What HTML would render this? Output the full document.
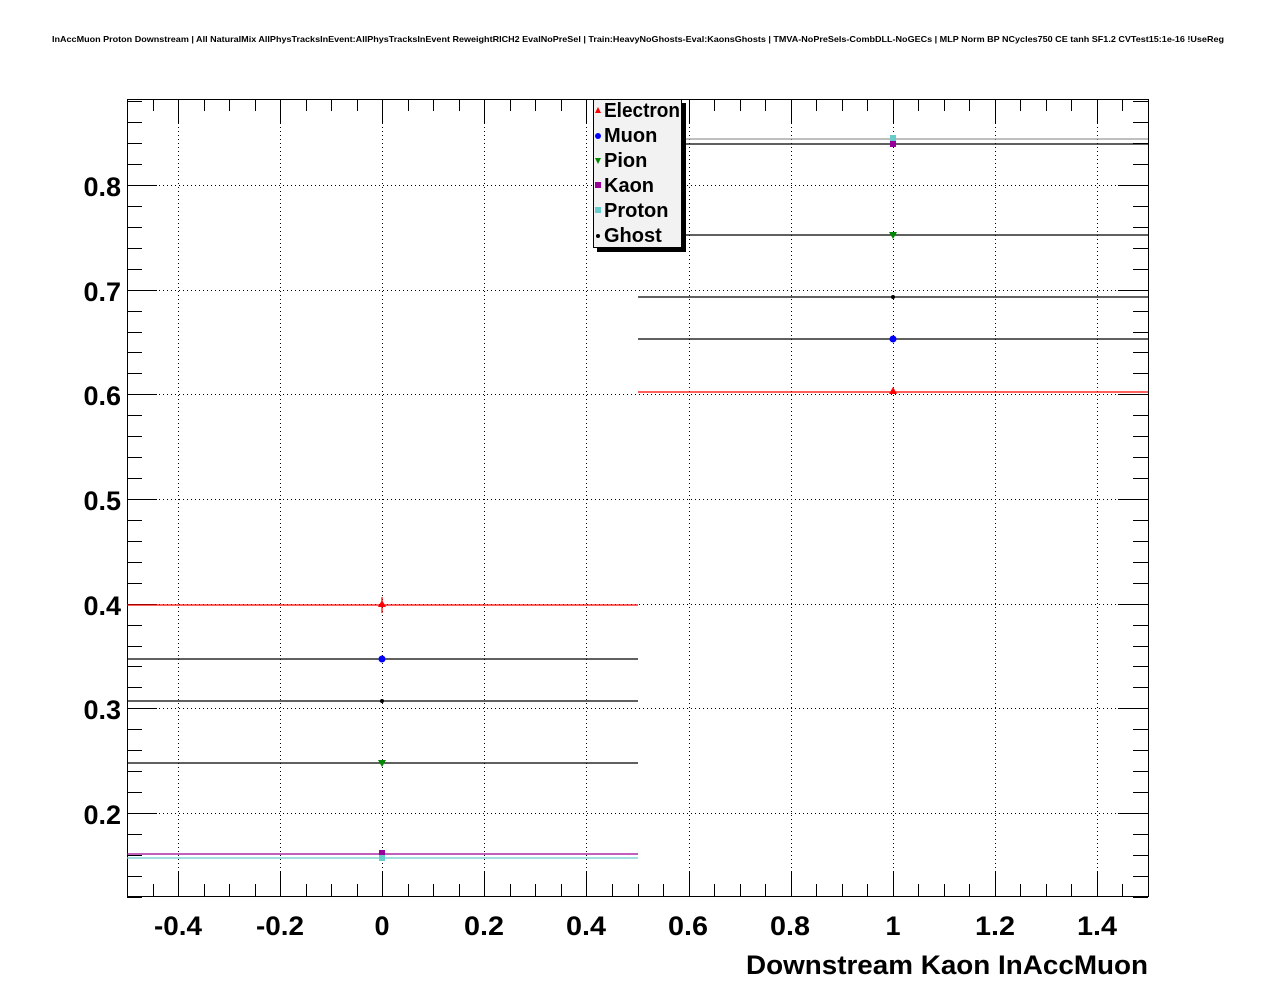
<!DOCTYPE html>
<html><head><meta charset="utf-8"><style>body{margin:0;background:#fff}svg{display:block}text{font-family:"Liberation Sans",sans-serif;font-weight:bold}</style></head><body>
<svg id="s" width="1276" height="996" viewBox="0 0 1276 996" xmlns="http://www.w3.org/2000/svg">
<rect width="1276" height="996" fill="#fff"/>
<text x="52" y="42" font-size="8.5" textLength="1172" lengthAdjust="spacingAndGlyphs">InAccMuon Proton Downstream | All NaturalMix AllPhysTracksInEvent:AllPhysTracksInEvent ReweightRICH2 EvalNoPreSel | Train:HeavyNoGhosts-Eval:KaonsGhosts | TMVA-NoPreSels-CombDLL-NoGECs | MLP Norm BP NCycles750 CE tanh SF1.2 CVTest15:1e-16 !UseReg</text>
<g id="grid" stroke="#000" stroke-width="1" stroke-dasharray="1,3"></g>
<g id="ticks" stroke="#000" stroke-width="1"></g>
<rect x="127.5" y="99.5" width="1021" height="797" fill="none" stroke="#000"/>
<g font-size="27" text-anchor="middle">
<text x="178" y="935" textLength="48" lengthAdjust="spacingAndGlyphs">-0.4</text><text x="280" y="935" textLength="48" lengthAdjust="spacingAndGlyphs">-0.2</text><text x="382" y="935">0</text><text x="484" y="935" textLength="40" lengthAdjust="spacingAndGlyphs">0.2</text><text x="586" y="935" textLength="40" lengthAdjust="spacingAndGlyphs">0.4</text><text x="688" y="935" textLength="40" lengthAdjust="spacingAndGlyphs">0.6</text><text x="790" y="935" textLength="40" lengthAdjust="spacingAndGlyphs">0.8</text><text x="893" y="935">1</text><text x="995" y="935" textLength="40" lengthAdjust="spacingAndGlyphs">1.2</text><text x="1097" y="935" textLength="40" lengthAdjust="spacingAndGlyphs">1.4</text>
</g>
<g font-size="27" text-anchor="end">
<text x="121" y="196">0.8</text><text x="121" y="301">0.7</text><text x="121" y="405">0.6</text><text x="121" y="510">0.5</text><text x="121" y="615">0.4</text><text x="121" y="719">0.3</text><text x="121" y="824">0.2</text>
</g>
<text x="746" y="974" font-size="27" textLength="402" lengthAdjust="spacingAndGlyphs">Downstream Kaon InAccMuon</text>
<g stroke-width="1.2">
<line x1="127" y1="605" x2="638" y2="605" stroke="#f00"/>
<line x1="127" y1="659" x2="638" y2="659" stroke="#000"/>
<line x1="127" y1="701" x2="638" y2="701" stroke="#000"/>
<line x1="127" y1="763" x2="638" y2="763" stroke="#000"/>
<line x1="127" y1="854" x2="638" y2="854" stroke="#909"/>
<line x1="127" y1="858" x2="638" y2="858" stroke="#6cc"/>
<line x1="638" y1="139" x2="1148" y2="139" stroke="#999"/>
<line x1="638" y1="144" x2="1148" y2="144" stroke="#000"/>
<line x1="638" y1="235" x2="1148" y2="235" stroke="#000"/>
<line x1="638" y1="297" x2="1148" y2="297" stroke="#000"/>
<line x1="638" y1="339" x2="1148" y2="339" stroke="#000"/>
<line x1="638" y1="392" x2="1148" y2="392" stroke="#f00"/>
<line x1="382" y1="597" x2="382" y2="613" stroke="#f00"/>
</g>
<g>
<polygon points="382,600 378,607 386,607" fill="#f00"/><circle cx="382" cy="659" r="3.5" fill="#00f"/><circle cx="382" cy="701" r="2" fill="#000"/>
<polygon points="378,760 386,760 382,767" fill="#080"/><rect x="379" y="850" width="6" height="6" fill="#909"/><rect x="379" y="855" width="6" height="6" fill="#6cc"/>
<polygon points="893,387 889,394 897,394" fill="#f00"/><circle cx="893" cy="339" r="3.5" fill="#00f"/><circle cx="893" cy="297" r="2" fill="#000"/>
<polygon points="889,232 897,232 893,239" fill="#080"/><rect x="890" y="141" width="6" height="6" fill="#909"/><rect x="890" y="135" width="6" height="6" fill="#6cc"/>
</g>
<rect x="597" y="103" width="89" height="149" fill="#000"/>
<rect x="593.5" y="99.5" width="88" height="148" fill="#f2f2f2" stroke="#000"/>
<g font-size="20">
<polygon points="598,107 595,113 601,113" fill="#f00"/><text x="604" y="117" textLength="76" lengthAdjust="spacingAndGlyphs">Electron</text>
<circle cx="598" cy="136" r="3" fill="#00f"/><text x="604" y="142">Muon</text>
<polygon points="595,158 601,158 598,164" fill="#080"/><text x="604" y="167">Pion</text>
<rect x="595" y="182" width="6" height="6" fill="#909"/><text x="604" y="192">Kaon</text>
<rect x="595" y="207" width="6" height="6" fill="#6cc"/><text x="604" y="217">Proton</text>
<circle cx="598" cy="236" r="2" fill="#000"/><text x="604" y="242">Ghost</text>
</g>
</svg>
<script>
var g=document.getElementById('grid'),t=document.getElementById('ticks'),ns='http://www.w3.org/2000/svg';
function L(p,a,b,c,d){var l=document.createElementNS(ns,'line');l.setAttribute('x1',a);l.setAttribute('y1',b);l.setAttribute('x2',c);l.setAttribute('y2',d);p.appendChild(l);}
for(var i=0;i<=40;i++){var v=-0.5+i*0.05,x=Math.round(382.25+v*510.5)+0.5,maj=Math.abs(v*5-Math.round(v*5))<1e-6,len=maj?24:12;
L(t,x,896,x,896-len);L(t,x,99,x,99+len);if(maj)L(g,x,99,x,896);}
for(var i=0;i<=40;i++){var v=0.12+i*0.02;if(v>0.882)break;var y=Math.round(185+(0.8-v)*1046.7)+0.5,maj=Math.abs(v*10-Math.round(v*10))<1e-6,len=maj?30:15;
L(t,127,y,127+len,y);L(t,1148,y,1148-len,y);if(maj)L(g,127,y,1148,y);}
</script>
</body></html>
